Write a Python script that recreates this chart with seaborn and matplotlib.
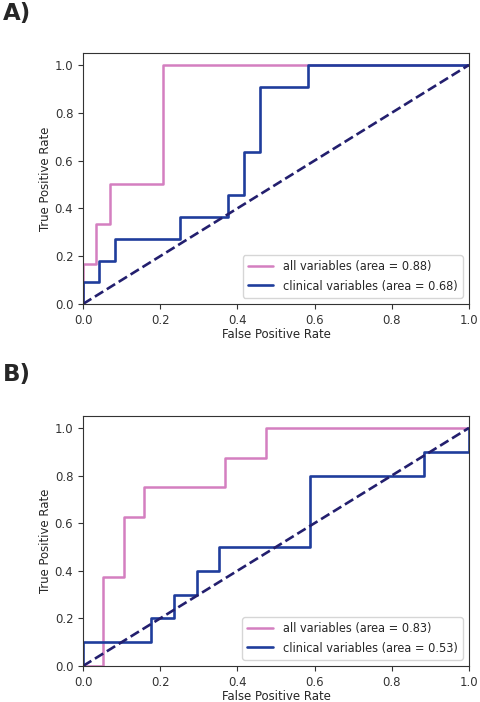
import numpy as np
import pandas as pd
import matplotlib
matplotlib.use("Agg")
import matplotlib.pyplot as plt
import seaborn as sns

sns.set_style("ticks")
plt.rcParams['font.family'] = ['DejaVu Sans']
plt.rcParams['font.stretch'] = 'condensed'

# panel A - ROC step vertices
fpr_all_a = [0, 0, 1/29, 1/29, 2/29, 2/29, 6/29, 6/29, 1.0]
tpr_all_a = [0, 1/6, 1/6, 2/6, 2/6, 3/6, 3/6, 1.0, 1.0]
fpr_clin_a = [0, 0, 1/24, 1/24, 2/24, 2/24, 6/24, 6/24, 9/24, 9/24, 10/24, 10/24,
              11/24, 11/24, 14/24, 14/24, 1.0]
tpr_clin_a = [0, 1/11, 1/11, 2/11, 2/11, 3/11, 3/11, 4/11, 4/11, 5/11, 5/11, 7/11,
              7/11, 10/11, 10/11, 1.0, 1.0]
auc_a = [0.88, 0.68]

# panel B
fpr_all_b = [0, 1/19, 1/19, 2/19, 2/19, 3/19, 3/19, 7/19, 7/19, 9/19, 9/19, 1.0]
tpr_all_b = [0, 0, 3/8, 3/8, 5/8, 5/8, 6/8, 6/8, 7/8, 7/8, 1.0, 1.0]
fpr_clin_b = [0, 0, 3/17, 3/17, 4/17, 4/17, 5/17, 5/17, 6/17, 6/17, 10/17, 10/17,
              15/17, 15/17, 1.0, 1.0]
tpr_clin_b = [0, 0.1, 0.1, 0.2, 0.2, 0.3, 0.3, 0.4, 0.4, 0.5, 0.5, 0.8,
              0.8, 0.9, 0.9, 1.0]
auc_b = [0.83, 0.53]

pink = "#d47fc0"
blue = "#1f3d9c"
fs = 9.4

fig = plt.figure(figsize=(4.81, 7.02), dpi=100)
ax1 = fig.add_axes([0.1726, 0.567, 0.8024, 0.3575])
ax2 = fig.add_axes([0.1726, 0.0513, 0.8024, 0.3561])

def roc_panel(ax, fa, ta, fc, tc, aucs):
    sns.lineplot(x=fa, y=ta, sort=False, estimator=None, color=pink, lw=1.8,
                 label="all variables (area = %0.2f)" % aucs[0], ax=ax)
    sns.lineplot(x=fc, y=tc, sort=False, estimator=None, color=blue, lw=1.9,
                 label="clinical variables (area = %0.2f)" % aucs[1], ax=ax)
    ax.plot([0, 1], [0, 1], color="#231f6e", lw=1.9, linestyle="--")
    ax.set_xlim(0, 1.0)
    ax.set_ylim(0, 1.05)
    ax.set_xlabel("False Positive Rate", fontsize=fs, labelpad=1)
    ax.set_ylabel("True Positive Rate", fontsize=fs, labelpad=2)
    ax.tick_params(labelsize=fs, colors="#333333")
    for s in ax.spines.values():
        s.set_color("#333333")
    ax.legend(loc="lower right", fontsize=9.1, handlelength=2.0)

roc_panel(ax1, fpr_all_a, tpr_all_a, fpr_clin_a, tpr_clin_a, auc_a)
roc_panel(ax2, fpr_all_b, tpr_all_b, fpr_clin_b, tpr_clin_b, auc_b)

fig.text(0.005, 0.997, "A)", fontsize=16.5, fontweight="bold", va="top", fontstretch="normal")
fig.text(0.005, 0.483, "B)", fontsize=16.5, fontweight="bold", va="top", fontstretch="normal")

fig.savefig("out.png", dpi=100)
